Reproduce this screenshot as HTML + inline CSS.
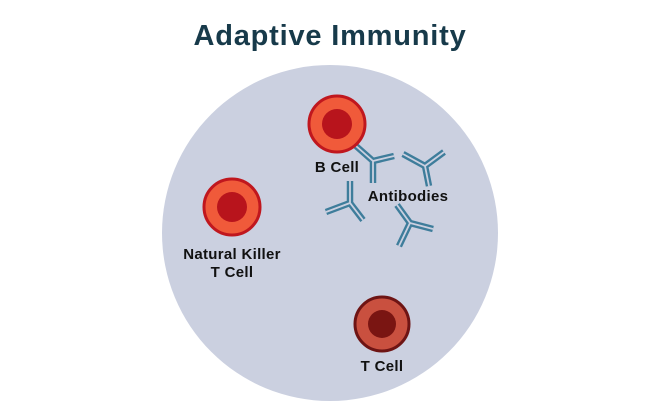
<!DOCTYPE html>
<html><head><style>
html,body{margin:0;padding:0;background:#fff;}
svg{display:block;}
</style></head><body>
<svg width="660" height="413" viewBox="0 0 660 413" xmlns="http://www.w3.org/2000/svg">
<text x="330" y="45" text-anchor="middle" font-family="Liberation Sans, sans-serif" font-weight="bold" font-size="29" letter-spacing="0.8" fill="#173a4a">Adaptive Immunity</text>
<circle cx="330" cy="233" r="168" fill="#cbd0e0"/>
<g stroke-linecap="butt" fill="none">
<g stroke="#3e7d9b" stroke-width="6.5">
<path d="M356,146 L373,161 L394,156 M373,161 L373,183"/>
<path d="M403,154 L425,166 L444,152 M425,166 L429,186"/>
<path d="M326,212 L350,203 L363,220 M350,203 L350,181"/>
<path d="M397,205 L410,223 L433,229 M410,223 L399,246"/>
</g>
<g stroke="#cbd0e0" stroke-width="1.8">
<path d="M356,146 L373,161 L394,156 M373,161 L373,183"/>
<path d="M403,154 L425,166 L444,152 M425,166 L429,186"/>
<path d="M326,212 L350,203 L363,220 M350,203 L350,181"/>
<path d="M397,205 L410,223 L433,229 M410,223 L399,246"/>
</g>
</g>
<circle cx="337" cy="124" r="28" fill="#f05a3a" stroke="#c0171e" stroke-width="3"/>
<circle cx="337" cy="124" r="15" fill="#b8141c"/>
<circle cx="232" cy="207" r="28" fill="#f05a3a" stroke="#c0171e" stroke-width="3"/>
<circle cx="232" cy="207" r="15" fill="#b8141c"/>
<circle cx="382" cy="324" r="27" fill="#c9503f" stroke="#6e1414" stroke-width="3"/>
<circle cx="382" cy="324" r="14" fill="#7a1512"/>
<g font-family="Liberation Sans, sans-serif" font-size="15" fill="#111" text-anchor="middle" font-weight="bold" letter-spacing="0.3">
<text x="337" y="172">B Cell</text>
<text x="408" y="201">Antibodies</text>
<text x="232" y="259">Natural Killer</text>
<text x="232" y="277">T Cell</text>
<text x="382" y="371">T Cell</text>
</g>
</svg>
</body></html>
